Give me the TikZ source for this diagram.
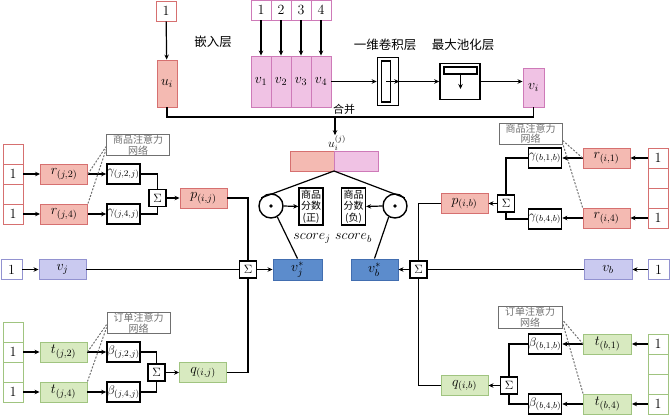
\RequirePackage{fix-cm}
\documentclass[tikz,border=0pt]{standalone}
\usepackage{amsmath}
\usepackage{fontspec}
\newfontfamily\cjk{Noto Sans CJK SC}
\usepackage{tikz}
\usetikzlibrary{arrows.meta}

\definecolor{redfill}{RGB}{244,186,178}
\definecolor{redline}{RGB}{214,112,112}
\definecolor{pinkfill}{RGB}{240,194,228}
\definecolor{pinkline}{RGB}{206,122,184}
\definecolor{lavfill}{RGB}{202,202,240}
\definecolor{lavline}{RGB}{146,146,208}
\definecolor{grnfill}{RGB}{216,234,192}
\definecolor{grnline}{RGB}{160,196,128}
\definecolor{bluefill}{RGB}{92,140,204}
\definecolor{blueline}{RGB}{66,110,176}
\definecolor{attgray}{RGB}{112,112,112}

\begin{document}
\begin{tikzpicture}[
  x=1pt, y=-1pt, font=\fontsize{14}{16}\selectfont,
  cell/.style={draw, fill=white, line width=0.9pt, minimum width=20pt,
    minimum height=20pt, inner sep=0pt, font=\fontsize{14}{14}\selectfont},
  vec/.style={line width=0.9pt, minimum width=47pt, minimum height=20pt,
    inner sep=0pt},
  wbox/.style={draw, line width=1.6pt, fill=white, minimum width=33pt,
    minimum height=20pt, inner sep=0pt, font=\fontsize{12.5}{13}\selectfont},
  sumbox/.style={draw, line width=1.6pt, fill=white, minimum size=17pt,
    inner sep=0pt, font=\fontsize{12}{12}\selectfont},
  att/.style={draw=attgray, text=attgray, line width=0.9pt, minimum width=63pt,
    minimum height=21pt, inner sep=0pt, align=center,
    font=\cjk\fontsize{10}{10.5}\selectfont},
  cn/.style={font=\cjk\fontsize{12.5}{14}\selectfont, inner sep=0pt},
  flow/.style={-{Stealth[length=5pt,width=4.5pt]}, line width=1.2pt},
  link/.style={line width=1.2pt},
  hint/.style={draw=attgray, dash pattern=on 2pt off 1.5pt, line width=1pt}
]
% Canvas in pixel units of the 670 by 415 reference.
\path[use as bounding box] (0,0) rectangle (670,415);

% Top row: user input, item words and the text CNN.
\node[cell, draw=redline] (inu) at (166,11) {1};
\node[vec, draw=redline, fill=redfill, minimum width=20pt,
  minimum height=47pt] (ui) at (167,83.5) {$u_i$};
\draw[flow] (inu) -- (ui);
\node[cn] (embed) at (213,42) {嵌入层};
\foreach \k/\x in {1/261,2/281,3/301,4/321} {
  \node[cell, draw=pinkline] (inv\k) at (\x,10) {\k};
  \node[vec, draw=pinkline, fill=pinkfill, minimum width=20pt,
    minimum height=51pt] (v\k) at (\x,81.5) {$v_{\k}$};
  \draw[flow] (inv\k) -- (v\k);
}
\node[cn] (convlab) at (385,45) {一维卷积层};
\node[draw, line width=1.6pt, minimum width=21pt, minimum height=48pt,
  inner sep=0pt] (conv) at (388,81.5) {};
\node[draw, line width=1.3pt, minimum width=9pt, minimum height=41pt,
  inner sep=0pt] (kernel) at (386,81.5) {};
\node[cn] (poollab) at (463,45) {最大池化层};
\node[draw, line width=1.6pt, minimum width=40pt, minimum height=36pt,
  inner sep=0pt] (pool) at (460,81.5) {};
\node[draw, line width=1.3pt, minimum width=33pt, minimum height=7pt,
  inner sep=0pt] (poolbar) at (460.5,70.5) {};
\coordinate (pooltip) at (460.5,89);
\node[vec, draw=pinkline, fill=pinkfill, minimum width=21pt,
  minimum height=39pt] (vi) at (533.5,87.5) {$v_i$};
\draw[flow] (v4.east) -- (conv.west);
\draw[flow] (kernel.center) -- (conv.east);
\draw[flow] (conv.east) -- (pool.west);
\draw[flow] (poolbar.south) -- (pooltip);
\draw[flow] (pool.east) -- (pool.east -| vi.west);

% Merge of u_i and v_i into the joint vector.
\coordinate (merge) at (335,117);
\draw[link] (ui.south) |- (merge) -| (vi.south);
\node[cn, font=\cjk\fontsize{11}{12}\selectfont] (mergelab) at (344,109) {合并};
\node[inner sep=0pt, font=\fontsize{12}{12}\selectfont] (uij) at (337,143)
  {$u_i^{(j)}$};
\draw[flow] (merge) -- (merge |- uij.north);
\node[vec, draw=redline, fill=redfill, minimum width=44pt] (barj) at (312,161) {};
\node[vec, draw=pinkline, fill=pinkfill, minimum width=44pt] (barb) at (356,161) {};
\coordinate (fork) at (334,171);

% Dot products and the two scores.
\node[circle, draw, line width=1.4pt, minimum size=24pt, inner sep=0pt]
  (dotj) at (271,206) {};
\node[circle, draw, line width=1.4pt, minimum size=24pt, inner sep=0pt]
  (dotb) at (395,206) {};
\fill (dotj) circle (1.8pt);
\fill (dotb) circle (1.8pt);
\node[draw, line width=1.4pt, minimum width=24pt, minimum height=37pt,
  inner sep=0pt, align=center, font=\cjk\fontsize{10}{11.5}\selectfont]
  (scorej) at (311,206.5) {商品\\分数\\(正)};
\node[draw, line width=1.4pt, minimum width=24pt, minimum height=37pt,
  inner sep=0pt, align=center, font=\cjk\fontsize{10}{11.5}\selectfont]
  (scoreb) at (353.5,206.5) {商品\\分数\\(负)};
\node (scorejlab) at (312,238) {$score_j$};
\node (scoreblab) at (353.5,238) {$score_b$};
\draw[flow] (dotj.east) -- (scorej.west);
\draw[flow] (dotb.west) -- (scoreb.east);
\node[vec, draw=blueline, fill=bluefill, minimum width=49pt, minimum height=21pt]
  (vjs) at (297.5,269.5) {$v_j^{*}$};
\node[vec, draw=blueline, fill=bluefill, minimum width=47pt, minimum height=21pt]
  (vbs) at (374.5,269.5) {$v_b^{*}$};
\draw[link] (fork) -- (dotj.140);
\draw[link] (fork) -- (dotb.40);
\draw[link] (dotj.-60) -- (vjs.north);
\draw[link] (dotb.-120) -- (vbs.north);

% Left: product attention for item j.
\foreach \k/\y/\t in {1/154/{},2/174/1,3/194/{},4/214/1}
  \node[cell, draw=redline] (lr\k) at (13,\y) {\t};
\node[vec, draw=redline, fill=redfill] (rj2) at (64,174) {$r_{(j,2)}$};
\node[vec, draw=redline, fill=redfill] (rj4) at (64,214) {$r_{(j,4)}$};
\node[wbox] (gj2) at (123.5,174) {$\gamma_{(j,2,j)}$};
\node[wbox] (gj4) at (123.5,214) {$\gamma_{(j,4,j)}$};
\node[sumbox] (sigL1) at (157.5,198) {$\Sigma$};
\node[vec, draw=redline, fill=redfill] (pij) at (203.5,198) {$p_{(i,j)}$};
\node[att] (attL1) at (138,145) {商品注意力\\网络};
\draw[flow] (lr2) -- (rj2);
\draw[flow] (lr4) -- (rj4);
\draw[flow] (rj2) -- (gj2);
\draw[flow] (rj4) -- (gj4);
\draw[hint] (rj2.east) -- (attL1.183);
\draw[hint] (rj4.north east) -- (attL1.188);
\draw[link] (gj2.east) -| (sigL1.north);
\draw[link] (gj4.east) -| (sigL1.south);
\draw[flow] (sigL1) -- (pij);

% Left: item vector row.
\node[cell, draw=lavline, minimum width=21pt] (onej) at (11.5,269.5) {1};
\node[vec, draw=lavline, fill=lavfill] (vj) at (62.5,269.5) {$v_j$};
\node[sumbox] (sigM) at (248,269.5) {$\Sigma$};
\draw[flow] (onej) -- (vj);
\draw[link] (vj) -- (sigM);
\draw[flow] (sigM) -- (vjs);
\draw[link] (pij.east) -| (sigM.north);

% Left: order attention for item j.
\foreach \k/\y/\t in {1/332/{},2/352/1,3/372/{},4/392/1}
  \node[cell, draw=grnline] (lg\k) at (13,\y) {\t};
\node[vec, draw=grnline, fill=grnfill] (tj2) at (63.5,352) {$t_{(j,2)}$};
\node[vec, draw=grnline, fill=grnfill] (tj4) at (63.5,392) {$t_{(j,4)}$};
\node[wbox] (bj2) at (123.5,352) {$\beta_{(j,2,j)}$};
\node[wbox] (bj4) at (123.5,392) {$\beta_{(j,4,j)}$};
\node[sumbox] (sigL2) at (156.5,372.5) {$\Sigma$};
\node[vec, draw=grnline, fill=grnfill] (qij) at (203,372.5) {$q_{(i,j)}$};
\node[att] (attL2) at (138.5,323) {订单注意力\\网络};
\draw[flow] (lg2) -- (tj2);
\draw[flow] (lg4) -- (tj4);
\draw[flow] (tj2) -- (bj2);
\draw[flow] (tj4) -- (bj4);
\draw[hint] (tj2.east) -- (attL2.183);
\draw[hint] (tj4.north east) -- (attL2.188);
\draw[link] (bj2.east) -| (sigL2.north);
\draw[link] (bj4.east) -| (sigL2.south);
\draw[flow] (sigL2) -- (qij);
\draw[link] (qij.east) -| (sigM.south);

% Right: product attention for item b.
\foreach \k/\y/\t in {1/158/1,2/178/{},3/198/{},4/218/1}
  \node[cell, draw=redline] (rr\k) at (658,\y) {\t};
\node[vec, draw=redline, fill=redfill] (ri1) at (606.5,158) {$r_{(i,1)}$};
\node[vec, draw=redline, fill=redfill] (ri4) at (606.5,218) {$r_{(i,4)}$};
\node[wbox] (gb1) at (545,158) {$\gamma_{(b,1,b)}$};
\node[wbox] (gb4) at (545,219) {$\gamma_{(b,4,b)}$};
\node[sumbox] (sigR1) at (506,203.5) {$\Sigma$};
\node[vec, draw=redline, fill=redfill] (pib) at (464.5,203.5) {$p_{(i,b)}$};
\node[att] (attR1) at (530.5,133.5) {商品注意力\\网络};
\draw[flow] (rr1) -- (ri1);
\draw[flow] (rr4) -- (ri4);
\draw[flow] (ri1) -- (gb1);
\draw[flow] (ri4.west) -- (ri4.west -| gb4.east);
\draw[hint] (ri1.west) -- (attR1.-12);
\draw[hint] (ri4.north west) -- (attR1.-16);
\draw[link] (gb1.west) -| (sigR1.north);
\draw[link] (gb4.west) -| (sigR1.south);
\draw[flow] (sigR1) -- (pib);

% Right: item vector row.
\node[cell, draw=lavline, minimum width=21pt] (oneb) at (658.5,269.5) {1};
\node[vec, draw=lavline, fill=lavfill, minimum width=48pt] (vb) at (608,269.5) {$v_b$};
\node[sumbox] (sigN) at (418.5,269.5) {$\Sigma$};
\draw[flow] (oneb) -- (vb);
\draw[link] (vb) -- (sigN);
\draw[flow] (sigN) -- (vbs);
\draw[link] (pib.west) -| (sigN.north);

% Right: order attention for item b.
\foreach \k/\y/\t in {1/344/1,2/364/{},3/384/{},4/404/1}
  \node[cell, draw=grnline] (rg\k) at (658,\y) {\t};
\node[vec, draw=grnline, fill=grnfill, minimum width=48pt] (tb1) at (607.5,344) {$t_{(b,1)}$};
\node[vec, draw=grnline, fill=grnfill, minimum width=48pt] (tb4) at (607.5,404) {$t_{(b,4)}$};
\node[wbox] (bb1) at (545,344) {$\beta_{(b,1,b)}$};
\node[wbox] (bb4) at (545,404) {$\beta_{(b,4,b)}$};
\node[sumbox] (sigR2) at (509,385.5) {$\Sigma$};
\node[vec, draw=grnline, fill=grnfill] (qib) at (464.5,385.5) {$q_{(i,b)}$};
\node[att, minimum width=64pt, minimum height=22pt] (attR2) at (530,317)
  {订单注意力\\网络};
\draw[flow] (rg1) -- (tb1);
\draw[flow] (rg4) -- (tb4);
\draw[flow] (tb1) -- (bb1);
\draw[flow] (tb4) -- (bb4);
\draw[hint] (tb1.west) -- (attR2.-5);
\draw[hint] (tb4.north west) -- (attR2.-9);
\draw[link] (bb1.west) -| (sigR2.north);
\draw[link] (bb4.west) -| (sigR2.south);
\draw[flow] (sigR2) -- (qib);
\draw[link] (qib.west) -| (sigN.south);
\end{tikzpicture}
\end{document}
